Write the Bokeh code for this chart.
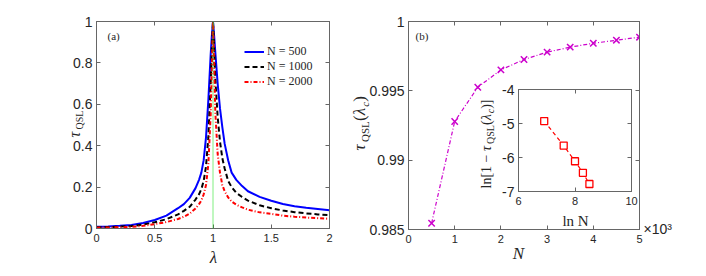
import math
from bokeh.plotting import figure
from bokeh.models import (Range1d, LinearAxis, FixedTicker, PrintfTickFormatter,
                          CustomJSTickFormatter, Label, Legend, LegendItem, Span, GridBox)
from bokeh.embed import file_html
from bokeh.resources import INLINE

# ---------------- data ----------------
lam = [0.0, 0.1, 0.2, 0.3, 0.4, 0.5, 0.6, 0.7, 0.75, 0.8, 0.85, 0.88, 0.9, 0.92, 0.94,
       0.96, 0.98, 0.99, 1.0, 1.01, 1.02, 1.04, 1.06, 1.08, 1.1, 1.13, 1.16, 1.2, 1.25,
       1.3, 1.4, 1.5, 1.6, 1.7, 1.8, 1.9, 2.0]
tau_500 = [0.009, 0.010, 0.013, 0.017, 0.027, 0.041, 0.062, 0.098, 0.118, 0.148, 0.195,
           0.235, 0.27, 0.33, 0.44, 0.62, 0.84, 0.93, 1.0, 0.93, 0.85, 0.70, 0.58, 0.49,
           0.41, 0.33, 0.27, 0.235, 0.205, 0.180, 0.153, 0.134, 0.118, 0.108, 0.100,
           0.094, 0.088]
tau_1000 = [0.006, 0.007, 0.009, 0.012, 0.019, 0.030, 0.045, 0.068, 0.085, 0.105, 0.14,
            0.165, 0.19, 0.23, 0.30, 0.44, 0.70, 0.87, 1.0, 0.87, 0.72, 0.54, 0.42, 0.34,
            0.29, 0.23, 0.20, 0.172, 0.152, 0.135, 0.112, 0.098, 0.087, 0.079, 0.073,
            0.068, 0.064]
tau_2000 = [0.004, 0.005, 0.006, 0.008, 0.013, 0.021, 0.031, 0.046, 0.057, 0.072, 0.097,
            0.118, 0.135, 0.165, 0.21, 0.31, 0.55, 0.78, 1.0, 0.78, 0.56, 0.36, 0.27, 0.21,
            0.18, 0.15, 0.13, 0.115, 0.102, 0.091, 0.078, 0.071, 0.062, 0.057, 0.053,
            0.050, 0.047]
legend_labels = ["N = 500", "N = 1000", "N = 2000"]
lambda_c = 1.0

N_vals = [500, 1000, 1500, 2000, 2500, 3000, 3500, 4000, 4500, 5000]
tau_c = [0.98545, 0.99279, 0.99526, 0.99651, 0.99726, 0.99779, 0.99815, 0.99843,
         0.99865, 0.99887]

lnN = [6.91, 7.60, 8.00, 8.28, 8.51]
ln_gap = [-4.93, -5.65, -6.11, -6.45, -6.78]

left_xticks = [0, 0.5, 1, 1.5, 2]
left_yticks = [0, 0.2, 0.4, 0.6, 0.8, 1]
right_xticks = [0, 1000, 2000, 3000, 4000, 5000]
right_yticks = [0.985, 0.99, 0.995, 1]
inset_xticks = [6, 8, 10]
inset_yticks = [-7, -6, -5, -4]

# ---------------- style ----------------
GREY = "#666666"
TXT = "#262626"
SANS = "Liberation Sans"
SERIF = "Liberation Serif"


def make_fig(xr, yr, fw, fh, bl, br, bt, bb):
    p = figure(x_range=Range1d(*xr), y_range=Range1d(*yr), frame_width=fw, frame_height=fh,
               min_border_left=bl, min_border_right=br, min_border_top=bt,
               min_border_bottom=bb, output_backend="svg", toolbar_location=None)
    p.grid.visible = False
    p.outline_line_color = GREY
    p.outline_line_width = 1
    return p


def setup_axes(p, xt, yt, xfmt, yfmt):
    p.xaxis.ticker = FixedTicker(ticks=xt)
    p.yaxis.ticker = FixedTicker(ticks=yt)
    p.xaxis.formatter = xfmt
    p.yaxis.formatter = yfmt
    for loc, t in (("above", xt), ("right", yt)):
        p.add_layout(LinearAxis(ticker=FixedTicker(ticks=t),
                                major_label_overrides={v: "" for v in t},
                                major_label_text_font_size="1px",
                                major_label_text_alpha=0, major_label_standoff=0), loc)
    for ax in p.axis:
        ax.major_tick_in = 4
        ax.major_tick_out = 0
        ax.minor_tick_line_color = None
        ax.axis_line_color = GREY
        ax.axis_line_width = 1
        ax.major_tick_line_color = GREY
        ax.major_tick_line_width = 1
        ax.major_label_text_color = TXT
        ax.major_label_text_font = SANS
    for ax in [p.xaxis[0], p.yaxis[0]]:
        ax.major_label_text_font_size = "14px"
    p.xaxis[0].major_label_standoff = 6
    p.yaxis[0].major_label_standoff = 4


# ---------------- panel (a) ----------------
pa = make_fig((0, 2), (0, 1), 233, 207, 88, 19, 13, 40)
setup_axes(pa, left_xticks, left_yticks, PrintfTickFormatter(format="%g"),
           PrintfTickFormatter(format="%g"))
r1 = pa.line(lam, tau_500, line_color="#0000ff", line_width=2)
r2 = pa.line(lam, tau_1000, line_color="#000000", line_width=2, line_dash="5 3")
r3 = pa.line(lam, tau_2000, line_color="#ff0000", line_width=2, line_dash="4 2 1 2")
pa.add_layout(Span(location=lambda_c, dimension="height", line_color="#00dd00",
                   line_width=1, line_dash="1 1"))
leg = Legend(items=[LegendItem(label=legend_labels[0], renderers=[r1]),
                    LegendItem(label=legend_labels[1], renderers=[r2]),
                    LegendItem(label=legend_labels[2], renderers=[r3])],
             location=(148, 139), background_fill_alpha=0, border_line_color=None,
             label_text_font=SERIF, label_text_font_size="12px", label_text_color=TXT,
             glyph_width=20, glyph_height=15, label_height=15, spacing=0, padding=5,
             label_standoff=3, margin=0)
pa.add_layout(leg)

# ---------------- panel (b) ----------------
pb = make_fig((0, 5000), (0.985, 1.0), 231, 208, 60, 59, 12, 40)
setup_axes(pb, right_xticks, right_yticks,
           CustomJSTickFormatter(code="return (tick/1000).toString()"),
           PrintfTickFormatter(format="%g"))
pb.line(N_vals, tau_c, line_color="#cc00cc", line_width=1.2, line_dash="4 2 1 2")
pb.scatter(N_vals, tau_c, marker="x", size=9, line_color="#cc00cc", line_width=1.5)

# ---------------- inset ----------------
pc = make_fig((6, 10), (-7, -4), 113, 102, 40, 8, 10, 37)
pc.border_fill_alpha = 0
pc.background_fill_color = "white"
setup_axes(pc, inset_xticks, inset_yticks, PrintfTickFormatter(format="%g"),
           PrintfTickFormatter(format="%g"))
pc.line(lnN, ln_gap, line_color="#ff0000", line_width=1.2, line_dash="4 3")
pc.scatter(lnN, ln_gap, marker="square", size=7, line_color="#ff0000", line_width=1.3,
           fill_color="white")

# ---------------- text overlay (page-pixel coordinates) ----------------
po = figure(x_range=Range1d(0, 702), y_range=Range1d(272, 0), frame_width=702,
            frame_height=272, min_border=0, x_axis_type=None, y_axis_type=None,
            output_backend="svg", toolbar_location=None)
po.grid.visible = False
po.outline_line_color = None
po.background_fill_alpha = 0
po.border_fill_alpha = 0


def htext(x, y, text, size, font=SERIF, style="normal", align="left"):
    po.add_layout(Label(x=x, y=y, text=text, text_font=font, text_font_size=f"{size}px",
                        text_font_style=style, text_align=align, text_baseline="middle",
                        text_color=TXT))


def vlabel(pieces, xcenter, ystart):
    y = ystart
    for text, size, dx, length, style in pieces:
        po.add_layout(Label(x=xcenter + dx, y=y, text=text, angle=math.pi / 2,
                            text_align="left", text_baseline="middle", text_font=SERIF,
                            text_font_size=f"{size}px", text_font_style=style,
                            text_color=TXT))
        y -= length


htext(107, 35, "(a)", 11)
htext(415, 35, "(b)", 11)
htext(213, 257, "λ", 17, style="italic", align="center")
htext(518, 253, "N", 17, style="italic", align="center")
htext(643, 228, "×10³", 14, font=SANS)
htext(575, 220, "ln N", 15, align="center")
vlabel([("τ", 16, 0, 8, "italic"), ("QSL", 10, 5, 19, "normal")], 74, 137)
vlabel([("τ", 17, 0, 8.5, "italic"), ("QSL", 11, 5, 21, "normal"),
        ("(", 17, 0, 5.7, "normal"), ("λ", 17, 0, 8.5, "italic"),
        ("c", 11, 5, 5, "italic"), (")", 17, 0, 6, "normal")], 359, 150)
vlabel([("ln[1 − ", 14, 0, 37.5, "normal"), ("τ", 14, 0, 7, "italic"),
        ("QSL", 10, 4, 19, "normal"), ("(", 14, 0, 4.7, "normal"),
        ("λ", 14, 0, 7, "italic"), ("c", 10, 4, 4.5, "italic"),
        (")]", 14, 0, 9.5, "normal")], 486, 188)

grid = GridBox(children=[(pa, 1, 1, 3, 1), (pb, 1, 2, 3, 3), (pc, 2, 3, 1, 1),
                         (po, 0, 0, 5, 6)],
               rows=["8px", "71px", "149px", "40px", "4px"],
               cols=["8px", "340px", "130px", "161px", "59px", "4px"], spacing=0)

open("out.html", "w").write(file_html(grid, INLINE))
